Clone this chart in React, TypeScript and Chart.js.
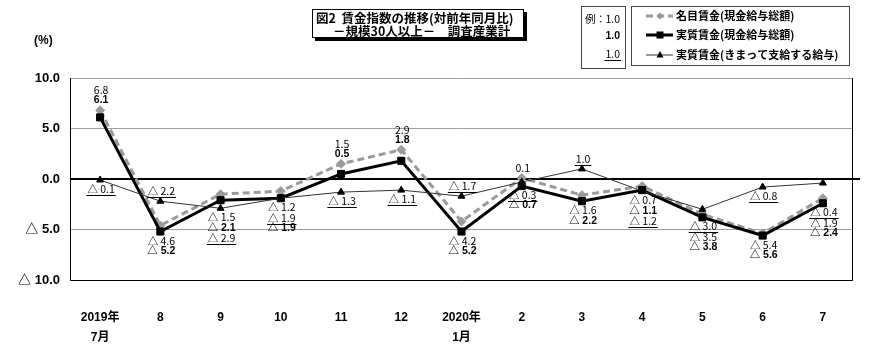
import React, { useEffect, useRef } from 'react';
import { Chart, registerables } from 'chart.js';

Chart.register(...registerables);

// ---- data ----
const categories: (string | string[])[] = [
  ['2019年', '7月'], '8', '9', '10', '11', '12', ['2020年', '1月'], '2', '3', '4', '5', '6', '7',
];
const nominalWage = [6.8, -4.6, -1.5, -1.2, 1.5, 2.9, -4.2, 0.1, -1.6, -0.7, -3.5, -5.4, -1.9];
const realWage = [6.1, -5.2, -2.1, -1.9, 0.5, 1.8, -5.2, -0.7, -2.2, -1.1, -3.8, -5.6, -2.4];
const realScheduled = [-0.1, -2.2, -2.9, -1.9, -1.3, -1.1, -1.7, -0.3, 1.0, -1.2, -3.0, -0.8, -0.4];
const yTickValues = [10, 5, 0, -5, -10];
const seriesNames = ['名目賃金(現金給与総額)', '実質賃金(現金給与総額)', '実質賃金(きまって支給する給与)'];
const titleLines = ['図2  賃金指数の推移(対前年同月比)', '－規模30人以上－　調査産業計'];
const unitLabel = '(%)';
const exampleValue = '1.0';

// label placement (above / below the points) per series
const labelSideNominal = ['up', 'down', 'down', 'down', 'up', 'up', 'down', 'up', 'down', 'down', 'down', 'down', 'down'];
const labelSideReal = ['up', 'down', 'down', 'down', 'up', 'up', 'down', 'down', 'down', 'down', 'down', 'down', 'down'];
const labelSideSched = ['down', 'up', 'down', 'down', 'down', 'down', 'up', 'down', 'up', 'down', 'down', 'down', 'down'];
const labelSides = [labelSideNominal, labelSideReal, labelSideSched];

const fmt = (v: number) => (v < 0 ? '△ ' + Math.abs(v).toFixed(1) : v.toFixed(1));

const JP = '"Noto Sans CJK JP", "Noto Sans", sans-serif';
const NARROW = '"Liberation Sans Narrow", "Noto Sans CJK JP", "DejaVu Sans Condensed", sans-serif';
const SANS = '"Liberation Sans", Arial, "Noto Sans CJK JP", sans-serif';
const labelFonts = [`10.5px ${NARROW}`, `bold 10.5px ${SANS}`, `10.5px ${NARROW}`];

function drawText(ctx: CanvasRenderingContext2D, text: string, x: number, y: number, font: string, align: CanvasTextAlign, underline = false) {
  ctx.font = font;
  ctx.textAlign = align;
  ctx.textBaseline = 'middle';
  ctx.fillStyle = '#000';
  ctx.fillText(text, x, y);
  if (underline) {
    const w = ctx.measureText(text).width;
    const x0 = align === 'center' ? x - w / 2 : align === 'right' ? x - w : x;
    ctx.beginPath();
    ctx.strokeStyle = '#000';
    ctx.lineWidth = 1;
    ctx.moveTo(x0 - 1, Math.round(y + 6) + 0.5);
    ctx.lineTo(x0 + w + 1, Math.round(y + 6) + 0.5);
    ctx.stroke();
  }
}

const framePlugin = {
  id: 'frame',
  beforeDatasetsDraw(chart: any) {
    const { ctx, chartArea } = chart;
    const { left, right, top, bottom } = chartArea;
    ctx.save();
    ctx.strokeStyle = '#000';
    ctx.lineWidth = 1;
    ctx.beginPath();
    ctx.moveTo(Math.round(left) + 0.5, top);
    ctx.lineTo(Math.round(left) + 0.5, Math.round(bottom) + 0.5);
    ctx.lineTo(Math.round(right) - 0.5, Math.round(bottom) + 0.5);
    ctx.lineTo(Math.round(right) - 0.5, top);
    ctx.stroke();
    const y0 = chart.scales.y.getPixelForValue(0);
    ctx.lineWidth = 2;
    ctx.beginPath();
    ctx.moveTo(right - 2, Math.round(y0));
    ctx.lineTo(right + 7, Math.round(y0));
    ctx.stroke();
    ctx.restore();
  },
};

const labelPlugin = {
  id: 'pointLabels',
  afterDatasetsDraw(chart: any) {
    const ctx = chart.ctx;
    ctx.save();
    const n = chart.data.labels.length;
    for (let i = 0; i < n; i++) {
      const items = chart.data.datasets.map((ds: any, d: number) => {
        const el = chart.getDatasetMeta(d).data[i];
        return { d, v: ds.data[i] as number, x: el.x, y: el.y, side: labelSides[d][i] };
      });
      for (const side of ['up', 'down']) {
        const group = items
          .filter((it: any) => it.side === side)
          .sort((a: any, b: any) => (b.v - a.v) || (b.d - a.d));
        const clusters: any[][] = [];
        for (const it of group) {
          const last = clusters[clusters.length - 1];
          if (last && last[last.length - 1].v - it.v <= 2.5) last.push(it);
          else clusters.push([it]);
        }
        for (const cl of clusters) {
          const cx = cl[0].x + 1;
          if (side === 'up') {
            const base = Math.min(...cl.map((c) => c.y));
            cl.forEach((it, k) => {
              const cy = base - 10 - 10 * (cl.length - 1 - k);
              drawText(ctx, fmt(it.v), cx, cy, labelFonts[it.d], 'center', it.d === 2);
            });
          } else {
            const base = Math.max(...cl.map((c) => c.y));
            cl.forEach((it, k) => {
              const cy = base + 9 + 10.5 * k;
              drawText(ctx, fmt(it.v), cx, cy, labelFonts[it.d], 'center', it.d === 2);
            });
          }
        }
      }
    }
    ctx.restore();
  },
};

const decorPlugin = {
  id: 'decor',
  afterDraw(chart: any) {
    const ctx = chart.ctx;
    ctx.save();
    // unit
    drawText(ctx, unitLabel, 34, 41, `bold 12px ${SANS}`, 'left');

    // title box with shadow
    const tx = 312, ty = 9, tw = 212, th = 29;
    ctx.fillStyle = '#000';
    ctx.fillRect(tx + 3, ty + 3, tw, th);
    ctx.fillStyle = '#fff';
    ctx.fillRect(tx, ty, tw, th);
    ctx.strokeStyle = '#000';
    ctx.lineWidth = 1;
    ctx.strokeRect(tx + 0.5, ty + 0.5, tw - 1, th - 1);
    drawText(ctx, titleLines[0], tx + 4, ty + 9, `bold 12.5px ${JP}`, 'left');
    drawText(ctx, titleLines[1], tx + 21, ty + 22, `bold 12.5px ${JP}`, 'left');

    // example box
    ctx.strokeStyle = '#444';
    ctx.strokeRect(581.5, 6.5, 44, 62);
    drawText(ctx, '例：', 585, 19, `10.5px ${JP}`, 'left');
    drawText(ctx, exampleValue, 620, 19, labelFonts[0], 'right');
    drawText(ctx, exampleValue, 620, 36, labelFonts[1], 'right');
    drawText(ctx, exampleValue, 620, 54, labelFonts[2], 'right', true);

    // legend box
    ctx.strokeStyle = '#444';
    ctx.strokeRect(631.5, 6.5, 218, 59);
    const rows = [16, 35, 55];
    chart.data.datasets.forEach((ds: any, d: number) => {
      const y = rows[d];
      ctx.save();
      ctx.strokeStyle = ds.borderColor;
      ctx.lineWidth = ds.borderWidth;
      ctx.setLineDash(ds.borderDash || []);
      ctx.beginPath();
      ctx.moveTo(646, y);
      ctx.lineTo(673, y);
      ctx.stroke();
      ctx.restore();
      ctx.save();
      ctx.fillStyle = ds.backgroundColor;
      const mx = 660;
      ctx.beginPath();
      if (ds.pointStyle === 'rectRot') {
        ctx.moveTo(mx, y - 3.5); ctx.lineTo(mx + 3.5, y); ctx.lineTo(mx, y + 3.5); ctx.lineTo(mx - 3.5, y);
      } else if (ds.pointStyle === 'rect') {
        ctx.rect(mx - 3.5, y - 3.5, 7, 7);
      } else {
        ctx.moveTo(mx, y - 4); ctx.lineTo(mx + 3.5, y + 2.5); ctx.lineTo(mx - 3.5, y + 2.5);
      }
      ctx.closePath();
      ctx.fill();
      ctx.restore();
      drawText(ctx, ds.label, 676, y, `bold 11px ${JP}`, 'left');
    });
    ctx.restore();
  },
};

export default function App() {
  const ref = useRef<HTMLCanvasElement | null>(null);
  useEffect(() => {
    if (!ref.current) return;
    const chart = new Chart(ref.current, {
      type: 'line',
      data: {
        labels: categories as any,
        datasets: [
          {
            label: seriesNames[0], data: nominalWage, borderColor: '#9a9a9a', backgroundColor: '#9a9a9a',
            borderWidth: 3, borderDash: [7, 4], pointStyle: 'rectRot', pointRadius: 4.5, pointBorderWidth: 1,
            pointBorderColor: '#9a9a9a', tension: 0, order: 2,
          },
          {
            label: seriesNames[1], data: realWage, borderColor: '#000', backgroundColor: '#000',
            borderWidth: 3, pointStyle: 'rect', pointRadius: 5, pointBorderWidth: 1, pointBorderColor: '#000',
            tension: 0, order: 1,
          },
          {
            label: seriesNames[2], data: realScheduled, borderColor: '#333', backgroundColor: '#000',
            borderWidth: 1, pointStyle: 'triangle', pointRadius: 4, pointBorderWidth: 1, pointBorderColor: '#000',
            tension: 0, order: 0,
          },
        ] as any,
      },
      options: {
        responsive: false,
        animation: false,
        events: [],
        layout: { padding: { top: 78, right: 37, left: 0, bottom: 0 } },
        plugins: { legend: { display: false }, tooltip: { enabled: false }, title: { display: false } },
        scales: {
          x: {
            offset: true,
            grid: { display: false, drawTicks: false },
            border: { display: false },
            ticks: {
              padding: 28, color: '#000', maxRotation: 0, autoSkip: false,
              font: { family: SANS, size: 12, weight: 'bold', lineHeight: 20 / 12 },
            },
            afterFit(s: any) { s.height = 83; },
          },
          y: {
            min: -10, max: 10,
            afterBuildTicks(s: any) { s.ticks = yTickValues.map((v) => ({ value: v })); },
            grid: {
              drawTicks: false,
              color: (c: any) => (c.tick && c.tick.value === 0 ? '#000' : '#a0a0a0'),
              lineWidth: (c: any) => (c.tick && c.tick.value === 0 ? 2 : 1),
            },
            border: { display: false },
            ticks: {
              padding: 10, color: '#000',
              callback: (v: any) => fmt(Number(v)),
              font: { family: SANS, size: 13, weight: 'bold' },
            },
            afterFit(s: any) { s.width = 70; },
          },
        },
      } as any,
      plugins: [framePlugin, labelPlugin, decorPlugin],
    });
    return () => chart.destroy();
  }, []);
  return (
    <div style={{ position: 'fixed', left: 0, top: 0, width: 890, height: 363, background: '#fff' }}>
      <canvas ref={ref} width={890} height={363} style={{ display: 'block' }} />
    </div>
  );
}
